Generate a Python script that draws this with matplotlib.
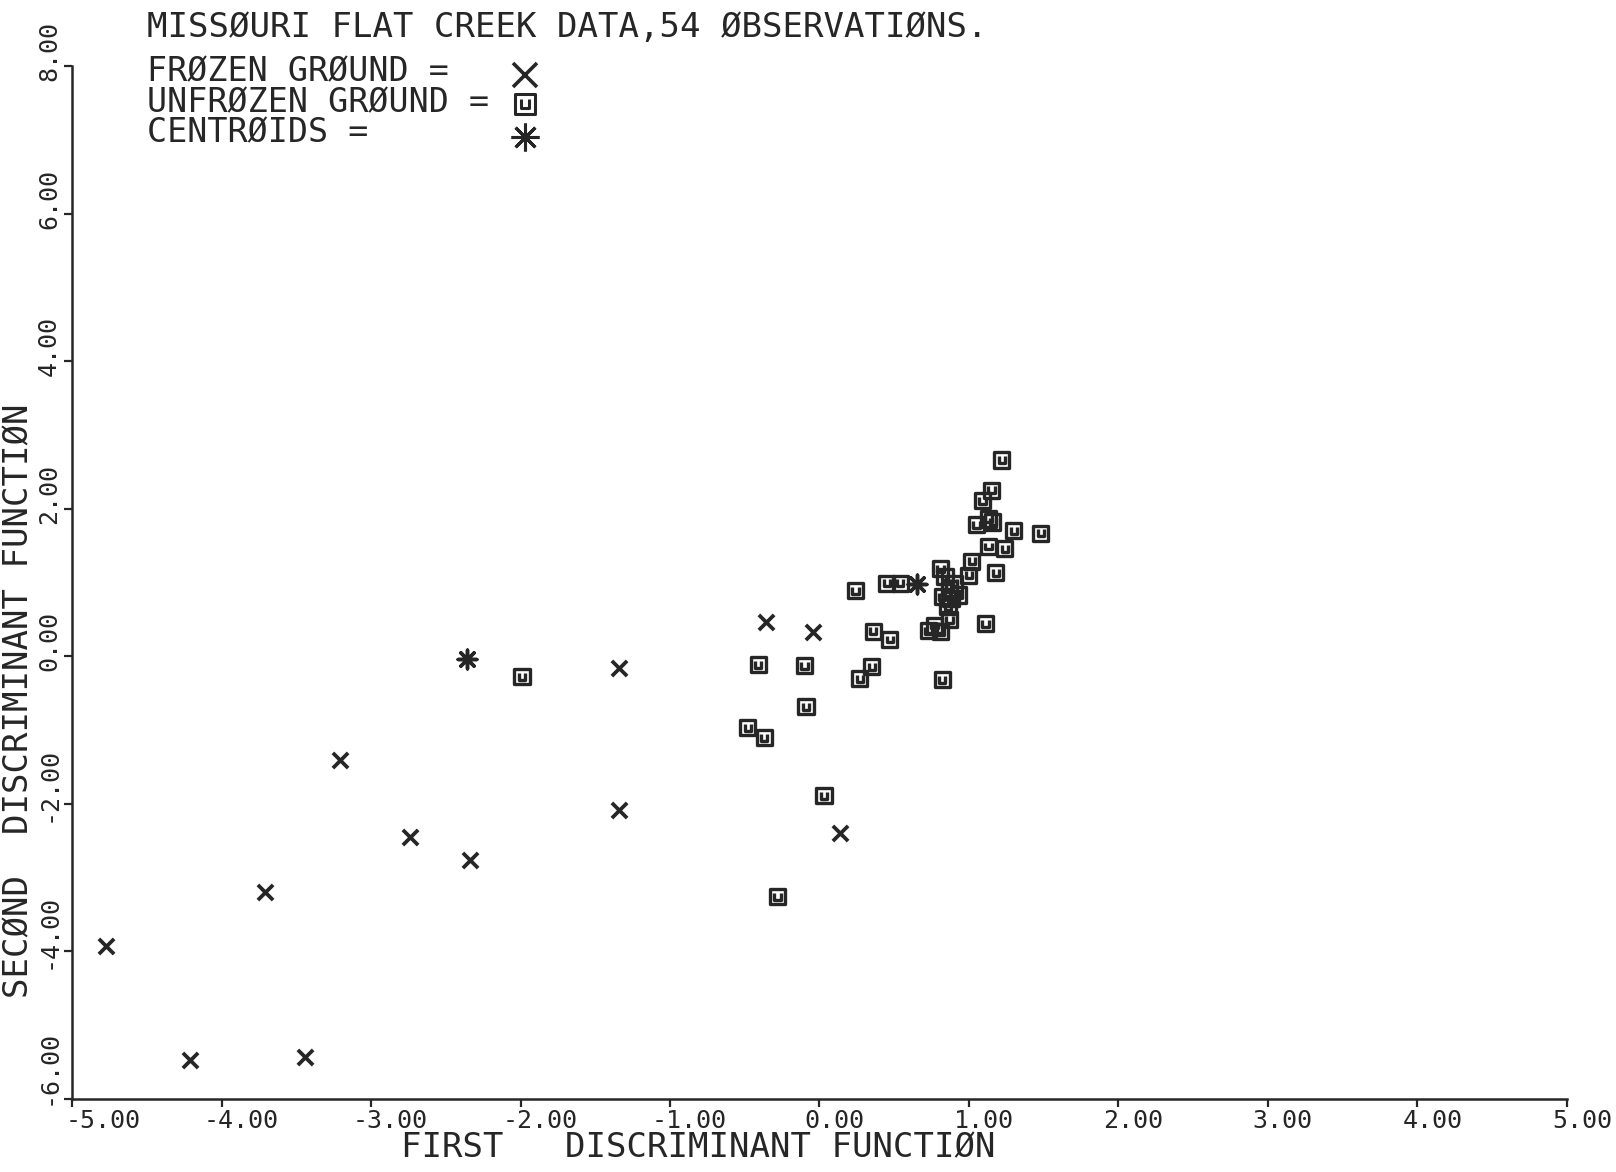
import numpy as np
import matplotlib
matplotlib.use("Agg")
import matplotlib.pyplot as plt
from matplotlib.path import Path
from matplotlib.transforms import ScaledTranslation

# values
frozen_x = [-4.77, -4.21, -3.44, -3.71, -3.21, -2.74, -2.34, -1.34, -1.34, -0.36, -0.04, 0.14]
frozen_y = [-3.92, -5.47, -5.43, -3.19, -1.40, -2.45, -2.76, -0.16, -2.09, 0.47, 0.33, -2.40]

unfrozen_x = [-1.99, -0.41, -0.48, -0.37, -0.10, -0.09, 0.03, -0.28, 0.24, 0.27,
              0.35, 0.36, 0.47, 0.45, 0.54, 0.82, 1.11, 1.00, 1.02, 1.18,
              1.13, 1.24, 1.30, 1.48, 1.05, 1.13, 1.16, 1.09, 1.15, 1.22,
              0.81, 0.84, 0.90, 0.93, 0.82, 0.88, 0.86, 0.87, 0.77, 0.73,
              0.81, 0.87]
unfrozen_y = [-0.28, -0.11, -0.97, -1.10, -0.13, -0.68, -1.89, -3.26, 0.89, -0.30,
              -0.14, 0.34, 0.23, 0.99, 0.99, -0.32, 0.44, 1.10, 1.29, 1.13,
              1.49, 1.46, 1.70, 1.67, 1.78, 1.86, 1.82, 2.11, 2.25, 2.66,
              1.19, 1.08, 0.99, 0.83, 0.81, 0.78, 0.67, 0.50, 0.42, 0.35,
              0.33, 0.92]

centroid_x = [-2.36, 0.65]
centroid_y = [-0.04, 0.98]

xticks = [-5, -4, -3, -2, -1, 0, 1, 2, 3, 4, 5]
yticks = [-6, -4, -2, 0, 2, 4, 6, 8]

title = "MISSØURI FLAT CREEK DATA,54 ØBSERVATIØNS."
legend_lines = ["FRØZEN GRØUND =", "UNFRØZEN GRØUND =", "CENTRØIDS ="]
xlab = "FIRST   DISCRIMINANT FUNCTIØN"
ylab = "SECØND  DISCRIMINANT FUNCTIØN"

ink = "#262626"
font = "DejaVu Sans Mono"
plt.rcParams['font.family'] = [font, 'DejaVu Sans']

# plotter style square with a small u inside
box_u = Path(
    [(-1, -1), (1, -1), (1, 1), (-1, 1), (-1, -1),
     (-0.42, 0.5), (-0.42, -0.42), (0.42, -0.42), (0.42, 0.5)],
    [Path.MOVETO, Path.LINETO, Path.LINETO, Path.LINETO, Path.CLOSEPOLY,
     Path.MOVETO, Path.LINETO, Path.LINETO, Path.LINETO])
star = (8, 2, 0)

fig = plt.figure(figsize=(16.16, 11.72), dpi=100)
ax = fig.add_axes([0.0446, 0.0623, 0.925, 0.8814])

ax.scatter(frozen_x, frozen_y, marker='x', s=120, linewidths=2.7, c=ink, clip_on=False)
ax.scatter(unfrozen_x, unfrozen_y, marker=box_u, s=118, linewidths=2.4,
           facecolors='none', edgecolors=ink, clip_on=False)
ax.scatter(centroid_x, centroid_y, marker=star, s=180, linewidths=2.5, c=ink, clip_on=False)

ax.set_xlim(-5, 5)
ax.set_ylim(-6, 8)
for s in ['top', 'right']:
    ax.spines[s].set_visible(False)
for s in ['left', 'bottom']:
    ax.spines[s].set_color(ink)
    ax.spines[s].set_linewidth(1.8)

tick_fs = 18
cw = 0.602 * tick_fs / 72  # char width in inches


def label_shift(v, first):
    # plotter puts the tick near the first digit of the label
    if first:
        return -0.4 * cw
    return -(1.2 if v < 0 else 1.0) * cw


ax.set_xticks(xticks)
ax.set_xticklabels([f"{v:.2f}" for v in xticks], fontsize=tick_fs, color=ink)
ax.set_yticks(yticks)
ax.set_yticklabels([f"{v:.2f}" for v in yticks], fontsize=tick_fs, color=ink,
                   rotation=90)
ax.tick_params(axis='both', direction='out', length=6, width=1.6, color=ink)
ax.tick_params(axis='x', pad=1)
ax.tick_params(axis='y', pad=2)

for i, (lab, v) in enumerate(zip(ax.get_xticklabels(), xticks)):
    lab.set_ha('left')
    lab.set_transform(lab.get_transform() +
                      ScaledTranslation(label_shift(v, i == 0), 0, fig.dpi_scale_trans))
for i, (lab, v) in enumerate(zip(ax.get_yticklabels(), yticks)):
    lab.set_va('bottom')
    lab.set_transform(lab.get_transform() +
                      ScaledTranslation(0, label_shift(v, i == 0), fig.dpi_scale_trans))

big = 24.5
fig.text(0.432, 0.0205, xlab, fontsize=big, color=ink, ha='center', va='center')
fig.text(0.0115, 0.402, ylab, fontsize=big, color=ink, ha='center', va='center',
         rotation=90)

fig.text(147 / 1616, 1 - 28 / 1172, title, fontsize=big, color=ink, ha='left', va='center')
line_y = [72, 103, 133]
for txt, yy in zip(legend_lines, line_y):
    fig.text(147 / 1616, 1 - yy / 1172, txt, fontsize=24, color=ink,
             ha='left', va='center')

# legend symbols, drawn a bit larger than in the plot
mk_x = 525 / 1616
sym_y = [1 - 75 / 1172, 1 - 104 / 1172, 1 - 137 / 1172]
fig.add_artist(plt.Line2D([mk_x], [sym_y[0]], marker='x', markersize=17, mew=2.6,
                          color=ink, transform=fig.transFigure))
fig.add_artist(plt.Line2D([mk_x], [sym_y[1]], marker=box_u, markersize=14, mew=2.2,
                          mfc='none', color=ink, transform=fig.transFigure))
fig.add_artist(plt.Line2D([mk_x], [sym_y[2]], marker=star, markersize=20, mew=2.2,
                          color=ink, transform=fig.transFigure))

fig.savefig("out.png", dpi=100, facecolor='white')
